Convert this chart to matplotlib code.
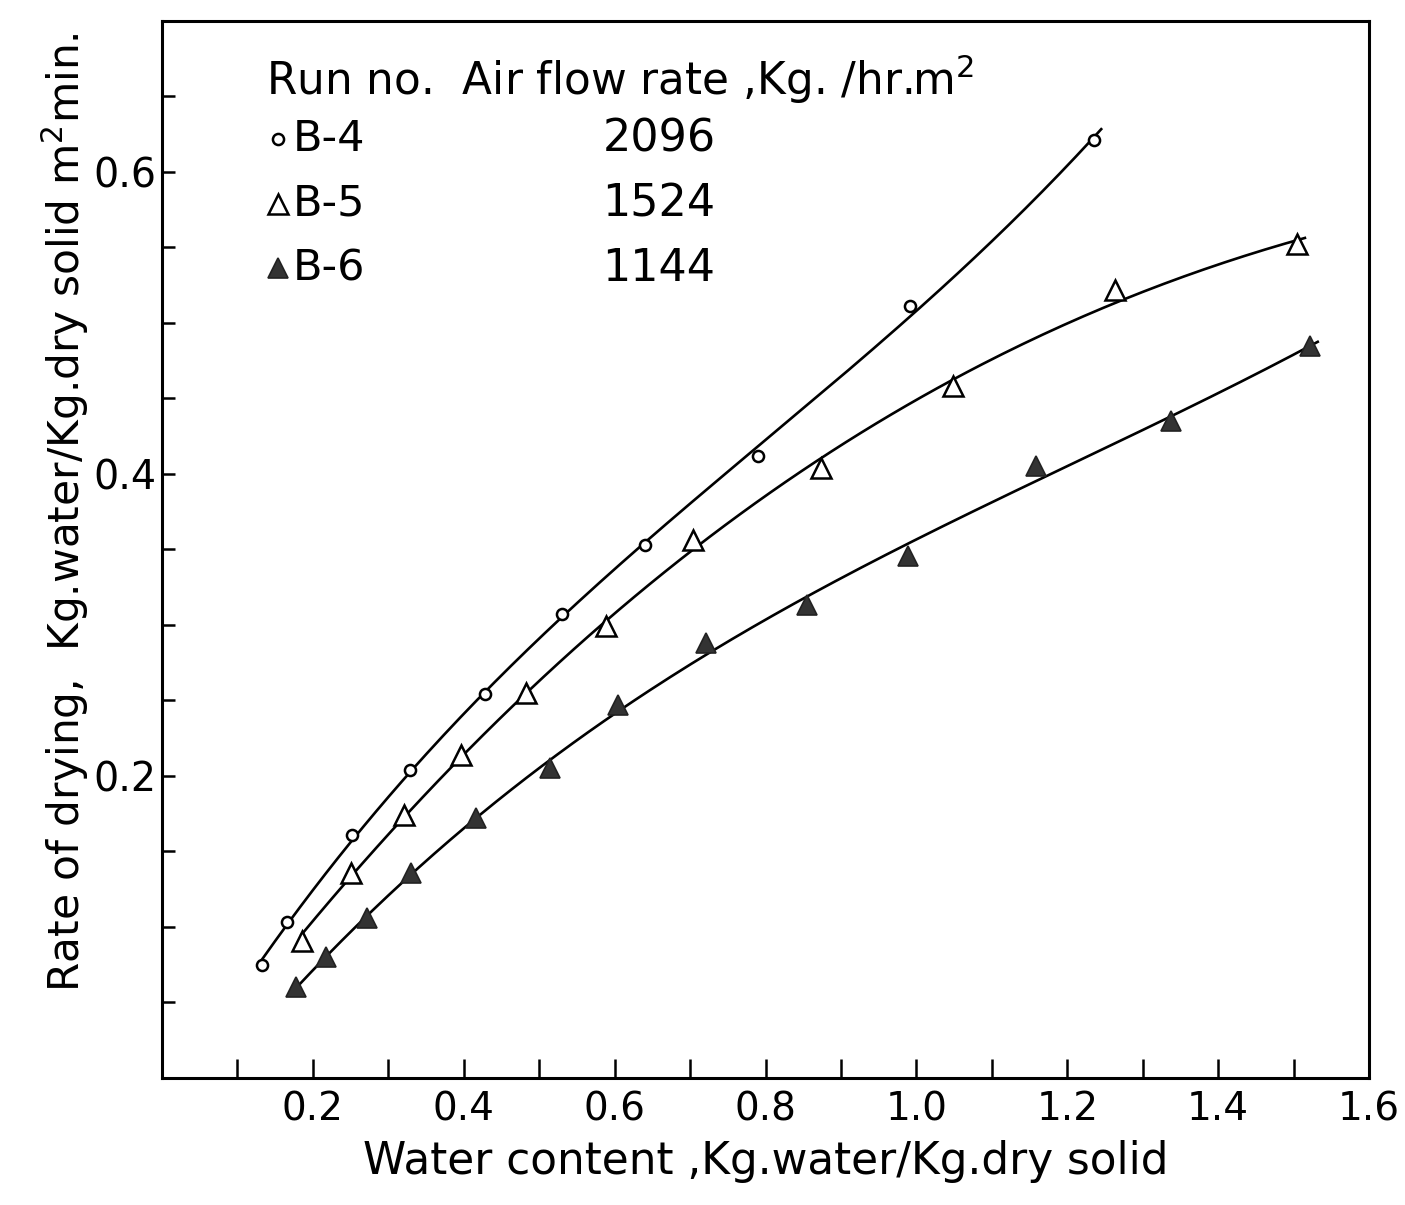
import matplotlib.pyplot as plt
import numpy as np

plt.rcParams.update({
    "font.family": "DejaVu Sans",
    "mathtext.fontset": "dejavusans"})

# Run B-4, air flow 2096 Kg/hr.m2 (open circles)
b4_x = [0.133, 0.166, 0.252, 0.329, 0.428, 0.530, 0.640, 0.790, 0.991, 1.235]
b4_y = [0.075, 0.103, 0.161, 0.204, 0.254, 0.307, 0.353, 0.412, 0.511, 0.621]

# Run B-5, air flow 1524 (open triangles)
b5_x = [0.185, 0.250, 0.321, 0.396, 0.482, 0.588, 0.704, 0.873, 1.049, 1.263, 1.505]
b5_y = [0.091, 0.136, 0.174, 0.214, 0.255, 0.299, 0.356, 0.404, 0.458, 0.522, 0.552]

# Run B-6, air flow 1144 (filled triangles)
b6_x = [0.177, 0.217, 0.272, 0.330, 0.416, 0.514, 0.604, 0.721, 0.855, 0.989,
        1.159, 1.337, 1.522]
b6_y = [0.060, 0.080, 0.106, 0.136, 0.172, 0.205, 0.247, 0.288, 0.313, 0.346,
        0.405, 0.435, 0.485]

runs = ["B-4", "B-5", "B-6"]
flow = ["2096", "1524", "1144"]

xticks = np.arange(0.1, 1.61, 0.1)
xlabels = ["" if round(t * 10) % 2 else f"{t:.1f}" for t in xticks]
yticks = np.arange(0.05, 0.66, 0.05)
ylabels = [f"{t:.1f}" if round(t * 100) % 20 == 0 else "" for t in yticks]

fig = plt.figure(figsize=(14.05, 12.05), dpi=100)
ax = fig.add_axes([0.1153, 0.1054, 0.8591, 0.8772])

styles = [dict(marker="o", ms=8, mfc="white", mec="black", mew=1.8),
          dict(marker="^", ms=15, mfc="white", mec="black", mew=1.8),
          dict(marker="^", ms=15, mfc="#333333", mec="#222222", mew=1.2)]

for (xs, ys), st in zip([(b4_x, b4_y), (b5_x, b5_y), (b6_x, b6_y)], styles):
    # smooth hand-drawn style curve fitted through the points
    c = np.polyfit(xs, ys, 3)
    xx = np.linspace(xs[0], xs[-1] + 0.01, 200)
    ax.plot(xx, np.polyval(c, xx), color="black", lw=1.9, zorder=2)
    ax.plot(xs, ys, ls="none", zorder=3, **st)

ax.set_xlim(0, 1.6)
ax.set_ylim(0, 0.7)
ax.set_xticks(xticks)
ax.set_xticklabels(xlabels)
ax.set_yticks(yticks)
ax.set_yticklabels(ylabels)
ax.tick_params(axis="x", direction="in", length=14, width=1.8, pad=9, labelsize=28)
ax.tick_params(axis="y", direction="in", length=9, width=1.8, pad=4, labelsize=28.5)
for s in ax.spines.values():
    s.set_linewidth(2.2)

ax.set_xlabel("Water content ,Kg.water/Kg.dry solid", fontsize=31.5, labelpad=8)
ax.set_ylabel("Rate of drying,  Kg.water/Kg.dry solid m$^2$min.", fontsize=30.5)
ax.yaxis.set_label_coords(-0.059, 0.535)

# key written inside the plot
ax.text(0.086, 0.945, "Run no.  Air flow rate ,Kg. /hr.m$^2$", transform=ax.transAxes,
        fontsize=31.5, va="center")
for i in range(3):
    yk = 0.888 - i * 0.061
    ax.plot(0.096, yk, transform=ax.transAxes, clip_on=False, ls="none", **styles[i])
    ax.text(0.108, yk, runs[i], transform=ax.transAxes, fontsize=31, va="center")
    ax.text(0.365, yk, flow[i], transform=ax.transAxes, fontsize=32, va="center")

fig.savefig("out.png", dpi=100, facecolor="white")
